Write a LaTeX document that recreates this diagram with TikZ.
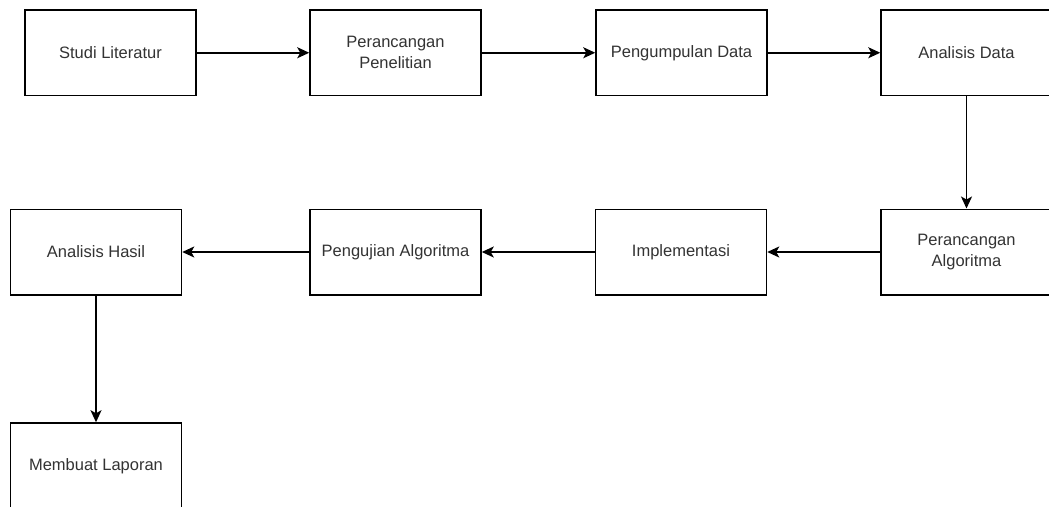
\documentclass[tikz,border=0pt]{standalone}
\usepackage{fontspec}
\setmainfont{Liberation Sans}
\usetikzlibrary{arrows.meta}
\begin{document}
\begin{tikzpicture}[x=1pt,y=-1pt,
  stepbox/.style={draw=black, line width=1.5pt, minimum width=171pt, minimum height=85.5pt,
    inner sep=0pt, align=center, text=black!80, font=\fontsize{16.5}{21}\selectfont},
  conn/.style={draw=black, line width=1.5pt, -{Stealth[length=12pt,width=11pt,inset=3pt]}}]
\clip (0,0) rectangle (1049,506);
\fill[white] (0,0) rectangle (1049,506);
\node[stepbox] (sl) at (110.5,52.75) {Studi Literatur};
\node[stepbox] (pp) at (395.5,52.75) {Perancangan\\Penelitian};
\node[stepbox] (pd) at (681.5,52.75) {Pengumpulan Data};
\node[stepbox] (ad) at (966.5,52.75) {Analisis Data};
\node[stepbox] (pa) at (966.5,252) {Perancangan\\Algoritma};
\node[stepbox] (im) at (681,252) {Implementasi};
\node[stepbox] (pg) at (395.5,252) {Pengujian Algoritma};
\node[stepbox] (ah) at (96,252) {Analisis Hasil};
\node[stepbox] (ml) at (96,465.75) {Membuat Laporan};
\draw[conn] (sl) -- (pp);
\draw[conn] (pp) -- (pd);
\draw[conn] (pd) -- (ad);
\draw[conn] (ad) -- (pa);
\draw[conn] (pa) -- (im);
\draw[conn] (im) -- (pg);
\draw[conn] (pg) -- (ah);
\draw[conn] (ah) -- (ml);
\end{tikzpicture}
\end{document}
